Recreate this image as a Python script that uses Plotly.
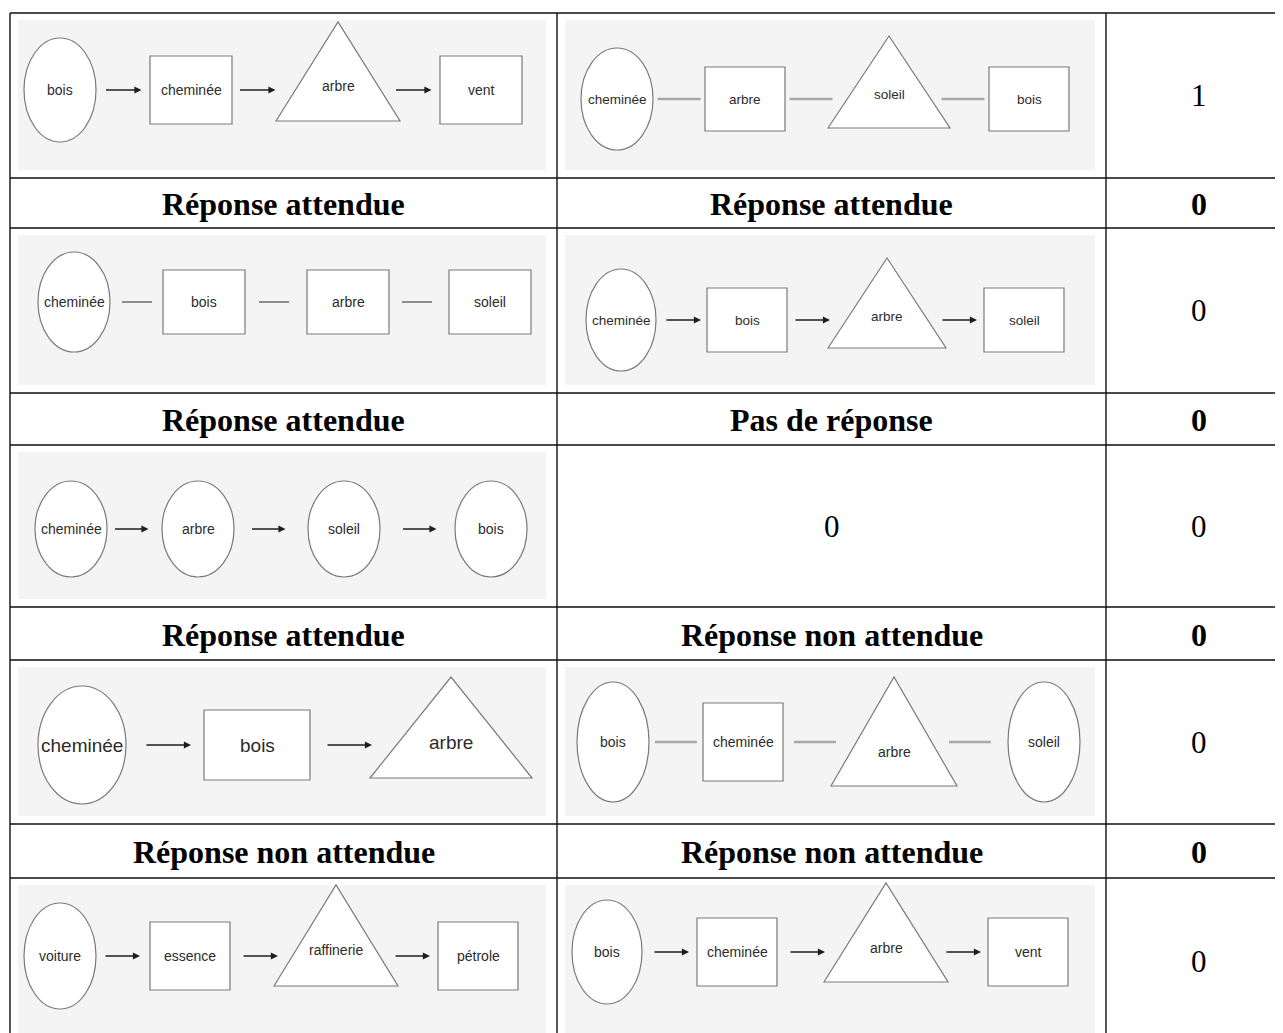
import plotly.graph_objects as go

# --- contenu du tableau ---
col_edges = [10, 557, 1106, 1292]
row_edges = [13, 178, 228, 393, 445, 607, 660, 824, 878, 1045]

# schémas : (ligne, colonne), étiquettes, formes, type de liaison
diag_cells = [(0, 0), (0, 1), (2, 0), (2, 1), (4, 0), (6, 0), (6, 1), (8, 0), (8, 1)]
diag_labels = [
    ["bois", "cheminée", "arbre", "vent"],
    ["cheminée", "arbre", "soleil", "bois"],
    ["cheminée", "bois", "arbre", "soleil"],
    ["cheminée", "bois", "arbre", "soleil"],
    ["cheminée", "arbre", "soleil", "bois"],
    ["cheminée", "bois", "arbre"],
    ["bois", "cheminée", "arbre", "soleil"],
    ["voiture", "essence", "raffinerie", "pétrole"],
    ["bois", "cheminée", "arbre", "vent"],
]
diag_forms = [
    ["circle", "rect", "triangle", "rect"],
    ["circle", "rect", "triangle", "rect"],
    ["circle", "rect", "rect", "rect"],
    ["circle", "rect", "triangle", "rect"],
    ["circle", "circle", "circle", "circle"],
    ["circle", "rect", "triangle"],
    ["circle", "rect", "triangle", "circle"],
    ["circle", "rect", "triangle", "rect"],
    ["circle", "rect", "triangle", "rect"],
]
diag_links = ["arrow", "line", "line", "arrow", "arrow", "arrow", "line", "arrow", "arrow"]

# textes des cellules
score_rows = [0, 2, 4, 6, 8]
scores = ["1", "0", "0", "0", "0"]
verdict_rows = [1, 3, 5, 7]
verdict_c1 = ["Réponse attendue", "Réponse attendue", "Réponse attendue", "Réponse non attendue"]
verdict_c2 = ["Réponse attendue", "Pas de réponse", "Réponse non attendue", "Réponse non attendue"]
verdict_scores = ["0", "0", "0", "0"]
empty_cell = (4, 1, "0")

# mise en page des schémas (centres, tailles)
diag_layout = [
    dict(cy=90, xs=[60, 191, 338, 481], links=[123, 257, 413], L=37,
         circ=(36, 52), rect=(41, 34), tri=(62, 68, 31), fs=14, tdy=-4),
    dict(cy=99, xs=[617, 745, 889, 1029], links=[679, 811, 963], L=43,
         circ=(36, 51), rect=(40, 32), tri=(61, 63, 29), fs=13.5, tdy=-5),
    dict(cy=302, xs=[74, 204, 348, 490], links=[137, 274, 417], L=30,
         circ=(36, 50), rect=(41, 32), tri=(60, 60, 30), fs=14, tdy=-4),
    dict(cy=320, xs=[621, 747, 887, 1024], links=[683, 812, 959], L=36,
         circ=(35, 51), rect=(40, 32), tri=(59, 62, 28), fs=13.5, tdy=-4),
    dict(cy=529, xs=[71, 198, 344, 491], links=[131, 268, 419], L=35,
         circ=(36, 48), rect=(40, 32), tri=(60, 60, 30), fs=14, tdy=0),
    dict(cy=745, xs=[82, 257, 451], links=[168, 349], L=46,
         circ=(44, 59), rect=(53, 35), tri=(81, 68, 33), fs=19, tdy=-3),
    dict(cy=742, xs=[613, 743, 894, 1044], links=[676, 815, 970], L=42,
         circ=(36, 60), rect=(40, 39), tri=(63, 65, 44), fs=14, tdy=10),
    dict(cy=956, xs=[60, 190, 336, 478], links=[122, 260, 412], L=36,
         circ=(36, 53), rect=(40, 34), tri=(62, 71, 30), fs=14, tdy=-6),
    dict(cy=952, xs=[607, 737, 886, 1028], links=[671, 807, 963], L=36,
         circ=(35, 52), rect=(40, 34), tri=(62, 69, 30), fs=14, tdy=-4),
]
line_style = {1: ("#a8a8a8", 2.6), 2: ("#555555", 1.3), 6: ("#a8a8a8", 2.6)}

node_font = "Liberation Sans, Arial, sans-serif"
serif_font = "Liberation Serif, Times New Roman, serif"

W, H = 1283, 1033
OFF = 8  # marge par défaut du <body> dans la page
fig = go.Figure()
shapes = []
annotations = []


def cell_center(r, c):
    return ((col_edges[c] + col_edges[c + 1]) / 2, (row_edges[r] + row_edges[r + 1]) / 2)


# fonds gris des images
for (r, c) in diag_cells:
    shapes.append(dict(type="rect", layer="below", x0=col_edges[c] + 8, x1=col_edges[c + 1] - 11,
                       y0=row_edges[r] + 7, y1=row_edges[r + 1] - 8,
                       fillcolor="#f4f4f4", line=dict(width=0)))

# noeuds et liaisons
for i, lay in enumerate(diag_layout):
    cy = lay["cy"]
    for lab, form, x in zip(diag_labels[i], diag_forms[i], lay["xs"]):
        ty = cy
        if form == "circle":
            rx, ry = lay["circ"]
            shapes.append(dict(type="circle", x0=x - rx, x1=x + rx, y0=cy - ry, y1=cy + ry,
                               fillcolor="white", line=dict(color="#7a7a7a", width=1.2)))
        elif form == "rect":
            hw, hh = lay["rect"]
            shapes.append(dict(type="rect", x0=x - hw, x1=x + hw, y0=cy - hh, y1=cy + hh,
                               fillcolor="white", line=dict(color="#7a7a7a", width=1.2)))
        else:
            hb, top, bot = lay["tri"]
            shapes.append(dict(type="path",
                               path=f"M {x - hb},{cy + bot} L {x},{cy - top} L {x + hb},{cy + bot} Z",
                               fillcolor="white", line=dict(color="#7a7a7a", width=1.2)))
            ty = cy + lay["tdy"]
        annotations.append(dict(x=x, y=ty, text=lab, showarrow=False,
                                font=dict(family=node_font, size=lay["fs"], color="#2b2b2b")))
    for m in lay["links"]:
        x0, x1 = m - lay["L"] / 2, m + lay["L"] / 2
        if diag_links[i] == "arrow":
            annotations.append(dict(x=x1, y=cy, ax=x0, ay=cy, axref="x", ayref="y", text="",
                                    showarrow=True, arrowhead=2, arrowsize=1.1, arrowwidth=1.3,
                                    arrowcolor="#1e1e1e", standoff=0))
        else:
            color, width = line_style[i]
            shapes.append(dict(type="line", x0=x0, x1=x1, y0=cy, y1=cy,
                               line=dict(color=color, width=width)))

# grille du tableau
for j, y in enumerate(row_edges):
    shapes.append(dict(type="line", x0=col_edges[0], x1=col_edges[-1], y0=y, y1=y,
                       line=dict(color="#111111" if j == 0 else "#4a4a4a", width=1.5 if j == 0 else 2)))
for x in col_edges:
    shapes.append(dict(type="line", x0=x, x1=x, y0=row_edges[0], y1=row_edges[-1],
                       line=dict(color="#111111", width=1.4)))

# textes
for r, s in zip(score_rows, scores):
    cx, cy = cell_center(r, 2)
    annotations.append(dict(x=cx, y=cy, text=s, showarrow=False,
                            font=dict(family=serif_font, size=31, color="black")))
for r, v1, v2, s in zip(verdict_rows, verdict_c1, verdict_c2, verdict_scores):
    for c, t in enumerate([v1, v2, s]):
        cx, cy = cell_center(r, c)
        annotations.append(dict(x=cx, y=cy + 1, text=f"<b>{t}</b>", showarrow=False,
                                font=dict(family=serif_font, size=32, color="black")))
r, c, t = empty_cell
cx, cy = cell_center(r, c)
annotations.append(dict(x=cx, y=cy, text=t, showarrow=False,
                        font=dict(family=serif_font, size=31, color="black")))

fig.update_layout(
    width=W, height=H,
    margin=dict(l=0, r=0, t=0, b=0),
    paper_bgcolor="white", plot_bgcolor="white",
    xaxis=dict(range=[OFF, W + OFF], visible=False, fixedrange=True),
    yaxis=dict(range=[H + OFF, OFF], visible=False, fixedrange=True),
    shapes=shapes, annotations=annotations,
    showlegend=False,
)

fig.write_html("out.html")
